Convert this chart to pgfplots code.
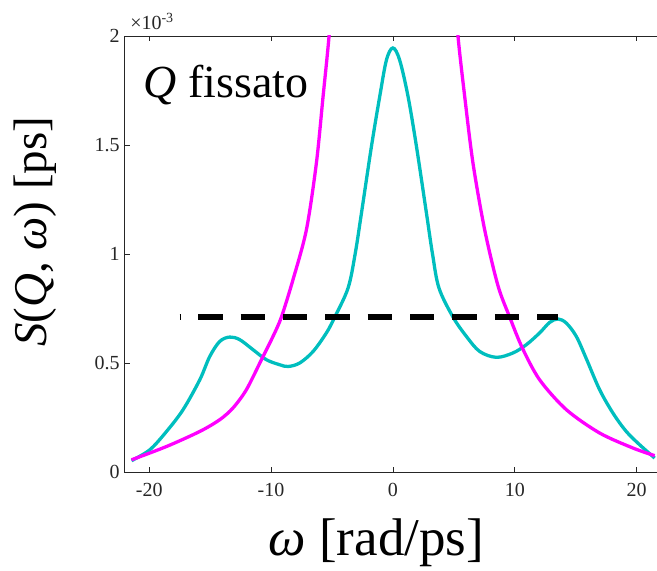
\documentclass[border=0pt]{standalone}
\usepackage{fontspec}
\setmainfont{Liberation Serif}
\usepackage{pgfplots}
\pgfplotsset{compat=1.18}
\usetikzlibrary{calc}
\definecolor{mag}{RGB}{255,0,255}
\definecolor{cya}{RGB}{0,190,190}

\begin{document}
\begin{tikzpicture}
\begin{axis}[
  name=ax,
  scale only axis,
  width=532.7pt, height=436.3pt,
  xmin=-22.05, xmax=21.64,
  ymin=0, ymax=2,
  axis x line=box, axis y line=left,
  axis line style={-, black!85, line width=0.8pt},
  tick align=inside,
  major tick length=5.5pt,
  tick style={black!85, line width=0.8pt},
  xtick={-20,-10,0,10,20},
  ytick={0,0.5,1,1.5,2},
  /pgf/number format/assume math mode=true,
  tick label style={font=\fontsize{20}{22}\selectfont, black!85},
  xticklabel style={yshift=-8pt},
  yticklabel style={xshift=-1pt},
  clip=true,
]
% cyan spectrum
\addplot[cya, line width=3.3pt, smooth, tension=0.55] coordinates {
(-21.45,0.052) (-19.95,0.102) (-18.58,0.186) (-17.22,0.286) (-15.85,0.423)
(-15.03,0.530) (-14.21,0.599) (-13.39,0.619) (-12.57,0.607) (-11.48,0.561)
(-10.38,0.515) (-9.29,0.492) (-8.6,0.484) (-7.65,0.500) (-6.55,0.553)
(-5.46,0.638) (-4.77,0.711) (-3.68,0.844) (-3.1,1.00) (-2.58,1.188) (-1.76,1.494)
(-1.08,1.723) (-0.53,1.890) (0,1.945) (0.55,1.890) (1.24,1.723)
(1.93,1.494) (2.75,1.188) (3.25,1.00) (3.78,0.844) (4.93,0.711)
(6.03,0.622) (7.12,0.553) (8.49,0.526) (9.85,0.546) (10.95,0.584)
(12.04,0.638) (12.86,0.686) (13.55,0.702) (14.23,0.683) (15.05,0.622)
(15.87,0.520) (16.96,0.378) (18.06,0.270) (19.15,0.186) (20.25,0.125)
(21.48,0.064)
};
% magenta, left branch
\addplot[mag, line width=3.3pt, smooth] coordinates {
(-21.45,0.056) (-18.58,0.117) (-15.85,0.186) (-14.21,0.240) (-13.12,0.294)
(-12.02,0.378) (-10.79,0.515) (-9.84,0.622) (-9.15,0.711) (-8.2,0.882)
(-7.1,1.111) (-6.28,1.417) (-5.73,1.723) (-5.24,2.0) (-4.85,2.3)
};
% magenta, right branch
\addplot[mag, line width=3.3pt, smooth] coordinates {
(4.95,2.3) (5.34,2.0) (5.89,1.723) (6.57,1.417) (7.53,1.111) (8.62,0.855)
(9.58,0.711) (10.62,0.569) (12.04,0.423) (14.23,0.286) (16.96,0.179)
(19.7,0.110) (21.48,0.075)
};
% dashed level
\addplot[black, line width=5.7pt, dash pattern=on 24.4pt off 18pt, dash phase=23.9pt] coordinates {
(-17.5,0.711) (13.55,0.711)
};
\node[anchor=base west, font=\fontsize{46}{50}\selectfont] at (axis description cs:0.0295,0.858) {\textit{Q} fissato};
\end{axis}
\node[anchor=base west, font=\fontsize{20}{22}\selectfont, black!85] at ($(ax.north west)+(2.5pt,6pt)$) {×10\textsuperscript{-3}};
\node[rotate=90, font=\fontsize{47}{50}\selectfont] at ($(ax.south west)+(-89.3pt,240.3pt)$) {\textit{S}(\textit{Q}, \textit{ω}) [ps]};
\node[anchor=base, font=\fontsize{53}{56}\selectfont] at ($(ax.south west)+(252.3pt,-83.7pt)$) {\textit{ω} [rad/ps]};
\path[use as bounding box] ($(ax.south west)+(-124.3pt,-93.7pt)$) rectangle ++(657pt,566pt);
\end{tikzpicture}
\end{document}
